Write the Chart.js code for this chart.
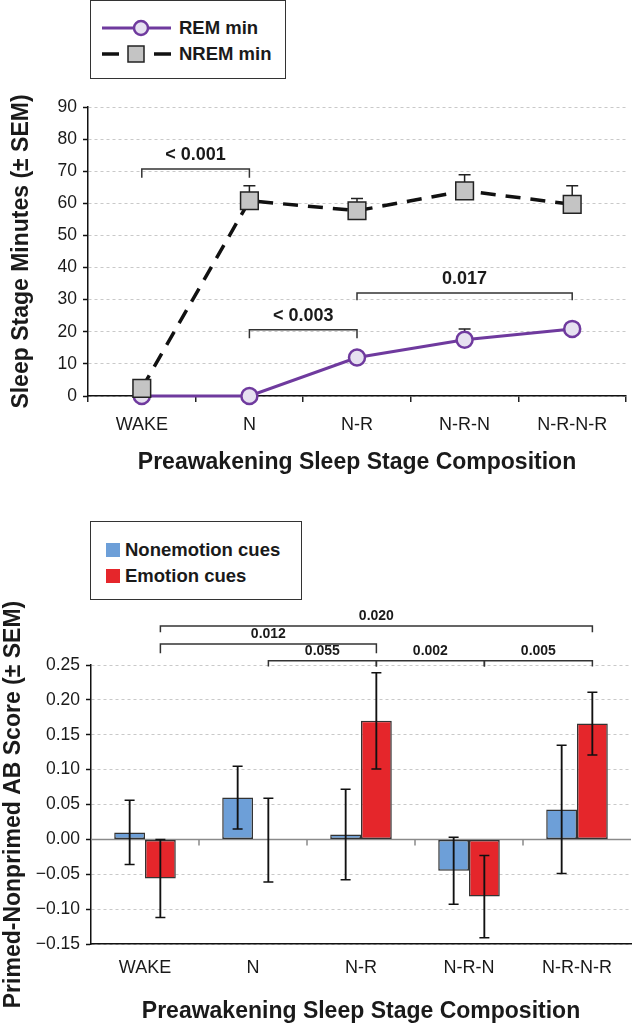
<!DOCTYPE html>
<html lang="en">
<head>
<meta charset="UTF-8">
<title>Preawakening Sleep Stage Composition</title>
<script src="https://cdn.jsdelivr.net/npm/chart.js"></script>
<style>
  body { margin: 0; background: #fff; }
  .wrap { position: relative; width: 640px; height: 1029px; overflow: hidden;
          font-family: 'Liberation Sans', Arial, sans-serif; color: #1a1a1a; }
  .panel { position: absolute; left: 0; }
  .legend { position: absolute; border: 1.5px solid #333; background: #fff; box-sizing: border-box; font-weight: bold; }
  .legend .sym { position: absolute; }
  .legend .txt { position: absolute; white-space: nowrap; line-height: 24px; }
</style>
</head>
<body>
<div class="wrap">
  <canvas id="minutesChart" class="panel" style="top:0" width="640" height="480"></canvas>
  <canvas id="scoreChart" class="panel" style="top:480px" width="640" height="549"></canvas>

  <!-- legend, top chart -->
  <div class="legend" style="left:90px; top:0; width:196px; height:79px;">
    <svg class="sym" style="left:11px; top:17px" width="69" height="20">
      <line x1="0" y1="10" x2="69" y2="10" stroke="#6f3a9e" stroke-width="3"/>
      <circle cx="39" cy="10" r="7" fill="#e6e1f0" stroke="#6f3a9e" stroke-width="2.5"/>
    </svg>
    <span class="txt" style="left:88px; top:15px; font-size:18.5px">REM min</span>
    <svg class="sym" style="left:11px; top:43px" width="69" height="20">
      <line x1="0" y1="10" x2="17" y2="10" stroke="#111" stroke-width="3.5"/>
      <rect x="26" y="2" width="16" height="16" fill="#c4c4c4" stroke="#222" stroke-width="1.5"/>
      <line x1="52" y1="10" x2="69" y2="10" stroke="#111" stroke-width="3.5"/>
    </svg>
    <span class="txt" style="left:88px; top:41px; font-size:18.5px">NREM min</span>
  </div>

  <!-- legend, bottom chart -->
  <div class="legend" style="left:90px; top:521px; width:212px; height:79px;">
    <svg class="sym" style="left:15px; top:21px" width="14" height="14"><rect x="0" y="0" width="14" height="14" fill="#6d9fd8"/></svg>
    <span class="txt" style="left:34px; top:16px; font-size:18.5px">Nonemotion cues</span>
    <svg class="sym" style="left:15px; top:47px" width="14" height="14"><rect x="0" y="0" width="14" height="14" fill="#e5262b"/></svg>
    <span class="txt" style="left:34px; top:42px; font-size:18.5px">Emotion cues</span>
  </div>
</div>

<script>
// categories
const stages = ['WAKE', 'N', 'N-R', 'N-R-N', 'N-R-N-R'];

// top panel: minutes of each stage (± SEM)
const remMin = [0, 0, 12.0, 17.5, 20.9];
const remSem = [0, 0, 0, 3.4, 1.5];
const nremMin = [2.4, 60.8, 57.7, 63.9, 59.7];
const nremSem = [0, 4.7, 3.8, 5.0, 5.8];
const minuteTicks = [0, 10, 20, 30, 40, 50, 60, 70, 80, 90];
const minuteBrackets = [
  { from: 0, to: 1, level: 70.7, drop: 2.7, p: '< 0.001' },
  { from: 1, to: 2, level: 20.6, drop: 2.6, p: '< 0.003' },
  { from: 2, to: 4, level: 32.1, drop: 2.3, p: '0.017' }
];

// bottom panel: primed-nonprimed AB score (± SEM)
const nonEmotion = [0.010, 0.060, 0.007, -0.045, 0.043];
const nonEmotionSem = [0.046, 0.045, 0.065, 0.048, 0.092];
const emotion = [-0.056, -0.001, 0.170, -0.082, 0.166];
const emotionSem = [0.056, 0.060, 0.069, 0.059, 0.045];
const scoreTicks = [-0.15, -0.10, -0.05, 0, 0.05, 0.10, 0.15, 0.20, 0.25];
const scoreBrackets = [
  { from: 0, to: 4, level: 0.306, drop: 0.009, p: '0.020' },
  { from: 0, to: 2, level: 0.280, drop: 0.013, p: '0.012' },
  { from: 1, to: 2, level: 0.256, drop: 0.008, p: '0.055' },
  { from: 2, to: 3, level: 0.256, drop: 0.008, p: '0.002' },
  { from: 3, to: 4, level: 0.256, drop: 0.008, p: '0.005' }
];

const FONT = "'Liberation Sans', Arial, sans-serif";
const PURPLE = '#6f3a9e';
const INK = '#1a1a1a';
const GRID = '#c9c9c9';

function errorBar(ctx, x, y0, y1, half) {
  ctx.beginPath();
  ctx.moveTo(x, y0); ctx.lineTo(x, y1);
  ctx.moveTo(x - half, y1); ctx.lineTo(x + half, y1);
  ctx.stroke();
}

function bracket(ctx, x1, x2, yTop, yEnd1, yEnd2) {
  ctx.beginPath();
  ctx.moveTo(x1, yEnd1); ctx.lineTo(x1, yTop); ctx.lineTo(x2, yTop); ctx.lineTo(x2, yEnd2);
  ctx.stroke();
}

// error bars and significance brackets, top panel
const minuteDecor = {
  id: 'minuteDecor',
  beforeDatasetsDraw(chart) {
    const { ctx, scales: { x, y } } = chart;
    ctx.save();
    ctx.strokeStyle = '#222';
    ctx.lineWidth = 1.5;
    nremSem.forEach((e, i) => {
      if (!e) return;
      errorBar(ctx, x.getPixelForValue(i), y.getPixelForValue(nremMin[i]), y.getPixelForValue(nremMin[i] + e), 6);
    });
    remSem.forEach((e, i) => {
      if (!e) return;
      errorBar(ctx, x.getPixelForValue(i), y.getPixelForValue(remMin[i]), y.getPixelForValue(remMin[i] + e), 6);
    });
    ctx.restore();
  },
  afterDatasetsDraw(chart) {
    const { ctx, scales: { x, y } } = chart;
    ctx.save();
    ctx.strokeStyle = '#333';
    ctx.lineWidth = 1.5;
    ctx.fillStyle = INK;
    ctx.font = 'bold 18px ' + FONT;
    ctx.textAlign = 'center';
    ctx.textBaseline = 'middle';
    minuteBrackets.forEach(b => {
      const x1 = x.getPixelForValue(b.from), x2 = x.getPixelForValue(b.to);
      const yt = y.getPixelForValue(b.level), ye = y.getPixelForValue(b.level - b.drop);
      bracket(ctx, x1, x2, yt, ye, ye);
      ctx.fillText(b.p, (x1 + x2) / 2, yt - 14);
    });
    ctx.restore();
  }
};

// zero line, error bars and brackets, bottom panel
const scoreDecor = {
  id: 'scoreDecor',
  beforeDatasetsDraw(chart) {
    const { ctx, chartArea: a, scales: { x, y } } = chart;
    const y0 = y.getPixelForValue(0);
    ctx.save();
    ctx.strokeStyle = '#8a8a8a';
    ctx.lineWidth = 1.5;
    ctx.beginPath();
    ctx.moveTo(a.left, y0); ctx.lineTo(a.right, y0);
    for (let i = 0; i < stages.length - 1; i++) {
      const bx = (x.getPixelForValue(i) + x.getPixelForValue(i + 1)) / 2;
      ctx.moveTo(bx, y0); ctx.lineTo(bx, y0 + 6);
    }
    ctx.stroke();
    ctx.restore();
  },
  afterDatasetsDraw(chart) {
    const { ctx, scales: { y } } = chart;
    const blue = chart.getDatasetMeta(0).data;
    const red = chart.getDatasetMeta(1).data;
    ctx.save();
    ctx.strokeStyle = '#111';
    ctx.lineWidth = 1.5;
    nonEmotion.forEach((v, i) => {
      const px = blue[i].x;
      errorBar(ctx, px, y.getPixelForValue(v - nonEmotionSem[i]), y.getPixelForValue(v + nonEmotionSem[i]), 5);
      errorBar(ctx, px, y.getPixelForValue(v + nonEmotionSem[i]), y.getPixelForValue(v - nonEmotionSem[i]), 5);
    });
    emotion.forEach((v, i) => {
      const px = red[i].x;
      errorBar(ctx, px, y.getPixelForValue(v - emotionSem[i]), y.getPixelForValue(v + emotionSem[i]), 5);
      errorBar(ctx, px, y.getPixelForValue(v + emotionSem[i]), y.getPixelForValue(v - emotionSem[i]), 5);
    });
    ctx.strokeStyle = '#333';
    ctx.fillStyle = INK;
    ctx.font = 'bold 14px ' + FONT;
    ctx.textAlign = 'center';
    ctx.textBaseline = 'middle';
    scoreBrackets.forEach(b => {
      const x1 = red[b.from].x, x2 = red[b.to].x;
      const yt = y.getPixelForValue(b.level), ye = y.getPixelForValue(b.level - b.drop);
      bracket(ctx, x1, x2, yt, ye, ye);
      ctx.fillText(b.p, (x1 + x2) / 2, yt - 10);
    });
    ctx.restore();
  }
};

const xTickFont = { family: FONT, size: 18 };
const yTickFont = { family: FONT, size: 17.5 };
const titleFont = { family: FONT, size: 23, weight: 'bold', lineHeight: 1 };

new Chart(document.getElementById('minutesChart'), {
  type: 'line',
  data: {
    labels: stages,
    datasets: [
      {
        label: 'REM min', data: remMin, order: 2, clip: false,
        borderColor: PURPLE, borderWidth: 3, tension: 0,
        pointStyle: 'circle', pointRadius: 8, pointBackgroundColor: '#e6e1f0',
        pointBorderColor: PURPLE, pointBorderWidth: 2.5
      },
      {
        label: 'NREM min', data: nremMin, order: 1, clip: false,
        borderColor: '#111', borderWidth: 3.5, borderDash: [15, 10], tension: 0,
        pointStyle: 'rect', pointRadius: 12.5, pointBackgroundColor: '#c4c4c4',
        pointBorderColor: '#222', pointBorderWidth: 1.5
      }
    ]
  },
  options: {
    responsive: false,
    animation: false,
    events: [],
    layout: { padding: { top: 107, right: 9, left: 0, bottom: 0 } },
    plugins: { legend: { display: false }, tooltip: { enabled: false } },
    scales: {
      x: {
        offset: true,
        grid: { offset: true, drawOnChartArea: false, tickLength: 6, color: '#222', lineWidth: 1.5 },
        border: { color: '#111', width: 1.5 },
        ticks: { color: INK, font: xTickFont, padding: 12 },
        title: { display: true, text: 'Preawakening Sleep Stage Composition', color: INK, font: titleFont, padding: { top: 0, bottom: 5.5 } },
        afterFit: s => { s.height = 84; }
      },
      y: {
        min: 0, max: 90,
        afterBuildTicks: s => { s.ticks = minuteTicks.map(v => ({ value: v })); },
        grid: { color: GRID, lineWidth: 1, tickLength: 5, tickColor: '#111', tickWidth: 1.5 },
        border: { color: '#111', width: 1.5, dash: [3, 3] },
        ticks: { color: INK, font: yTickFont, padding: 6 },
        title: { display: true, text: 'Sleep Stage Minutes (\u00b1 SEM)', color: INK, font: titleFont, padding: { top: 10, bottom: 0 } },
        afterFit: s => { s.width = 88; }
      }
    }
  },
  plugins: [minuteDecor]
});

new Chart(document.getElementById('scoreChart'), {
  type: 'bar',
  data: {
    labels: stages,
    datasets: [
      { label: 'Nonemotion cues', data: nonEmotion, backgroundColor: '#6d9fd8', borderColor: '#333', borderWidth: 1.5, borderSkipped: false },
      { label: 'Emotion cues', data: emotion, backgroundColor: '#e5262b', borderColor: '#333', borderWidth: 1.5, borderSkipped: false }
    ]
  },
  options: {
    responsive: false,
    animation: false,
    events: [],
    categoryPercentage: 0.57,
    barPercentage: 1.0,
    layout: { padding: { top: 185, right: 9, left: 0, bottom: 0 } },
    plugins: { legend: { display: false }, tooltip: { enabled: false } },
    scales: {
      x: {
        grid: { display: false, drawTicks: false },
        border: { color: '#111', width: 1.5 },
        ticks: { color: INK, font: xTickFont, padding: 13 },
        title: { display: true, text: 'Preawakening Sleep Stage Composition', color: INK, font: titleFont, padding: { top: 0, bottom: 5.5 } },
        afterFit: s => { s.height = 85; }
      },
      y: {
        min: -0.15, max: 0.25,
        afterBuildTicks: s => { s.ticks = scoreTicks.map(v => ({ value: v })); },
        grid: {
          color: c => (c.tick && Math.abs(c.tick.value) < 1e-9) ? 'rgba(0,0,0,0)' : GRID,
          lineWidth: 1, tickLength: 5, tickColor: '#111', tickWidth: 1.5
        },
        border: { color: '#111', width: 1.5, dash: [3, 3] },
        ticks: {
          color: INK, font: yTickFont, padding: 6,
          callback: v => v.toFixed(2).replace('-', '\u2212')
        },
        title: { display: true, text: 'Primed-Nonprimed AB Score (\u00b1 SEM)', color: INK, font: titleFont, padding: { top: 2, bottom: 0 } },
        afterFit: s => { s.width = 91; }
      }
    }
  },
  plugins: [scoreDecor]
});
</script>
</body>
</html>
